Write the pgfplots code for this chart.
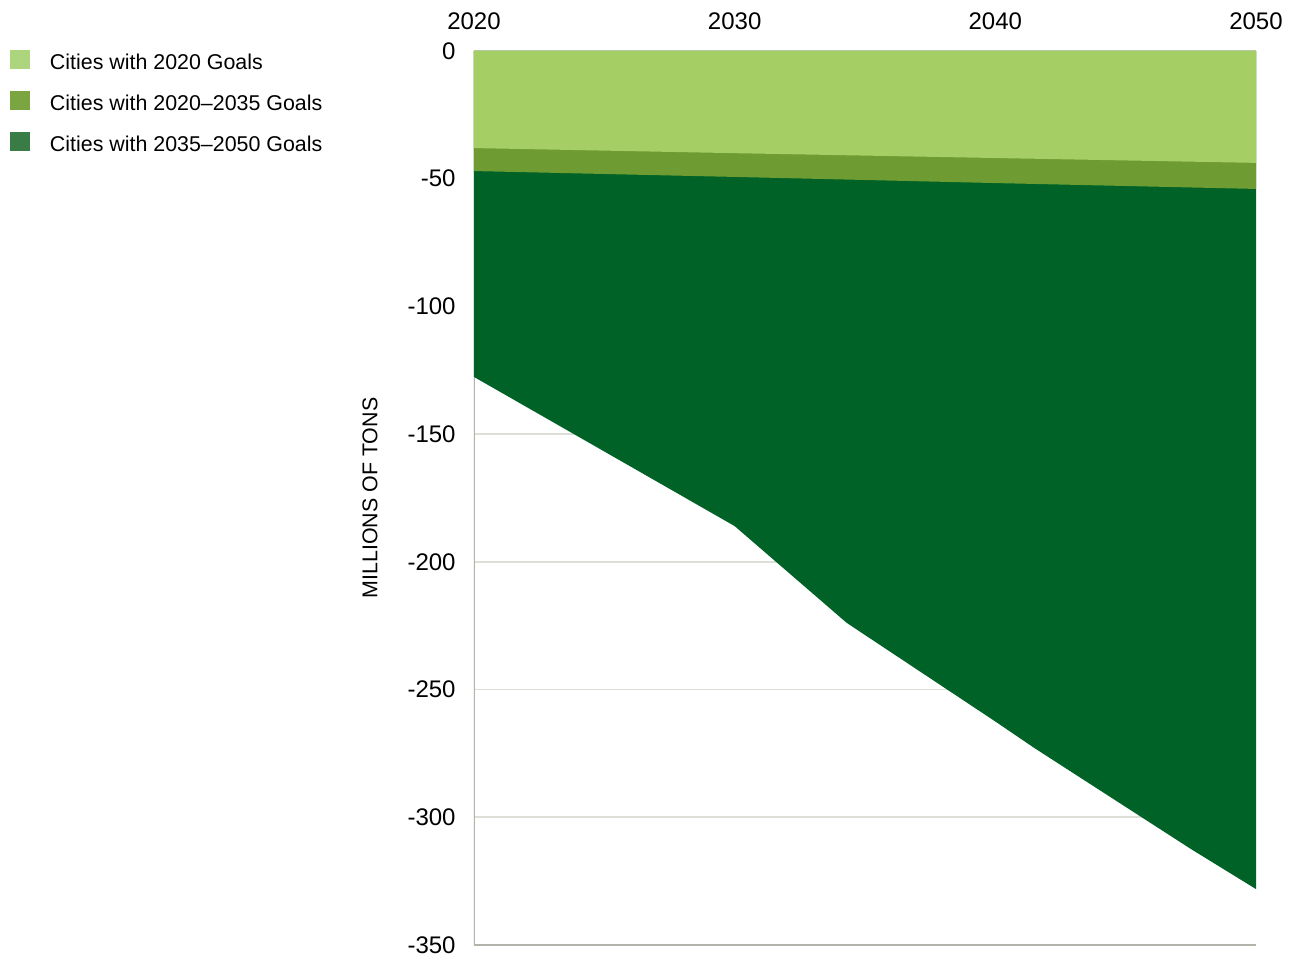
\documentclass[border=0pt]{standalone}
\usepackage{pgfplots}
\pgfplotsset{compat=1.18}
\usepackage{fontspec}
\setmainfont{Liberation Sans}
\definecolor{areaA}{HTML}{A5CE64}
\definecolor{areaB}{HTML}{6E9C32}
\definecolor{areaC}{HTML}{006227}
\definecolor{legA}{HTML}{ADD57D}
\definecolor{legB}{HTML}{7BA540}
\definecolor{legC}{HTML}{3A7C45}
\definecolor{axisgray}{HTML}{B3B3AB}
\definecolor{gridgray}{HTML}{DEDED8}
\begin{document}
\begin{tikzpicture}
\useasboundingbox (-237pt,-7pt) rectangle (411pt,472.5pt);
\begin{axis}[
  at={(0,0)}, anchor=south west,
  scale only axis, width=391pt, height=447pt,
  xmin=2020, xmax=2050, ymin=-350, ymax=0,
  axis line style={draw=none},
  major tick length=0pt,
  xtick={2020,2030,2040,2050}, xticklabels={2020,2030,2040,2050},
  xticklabel pos=upper,
  xticklabel style={font=\fontsize{12}{12}\selectfont, anchor=base, inner sep=0pt, yshift=10.75pt},
  ytick={0,-50,-100,-150,-200,-250,-300,-350},
  yticklabels={0,-50,-100,-150,-200,-250,-300,-350},
  yticklabel style={font=\fontsize{12}{12}\selectfont, anchor=east, inner sep=0pt, xshift=-9pt},
  ymajorgrids, grid style={color=gridgray, line width=0.9pt},
  ylabel={MILLIONS OF TONS},
  every axis y label/.style={at={(axis description cs:0,0.5)}, xshift=-52pt, rotate=90, anchor=center, font=\fontsize{10.7}{10.7}\selectfont},
  legend style={at={(axis description cs:-0.5934,1.0011)}, anchor=north west, draw=none, fill=none, inner sep=0pt, outer sep=0pt, font=\fontsize{10.7}{10.7}\selectfont, row sep=9pt, nodes={inner sep=0pt, text height=9pt, text depth=2pt}, /tikz/every odd column/.append style={column sep=10pt}},
  legend cell align=left,
  legend image code/.code={\fill (0pt,-3.5pt) rectangle (10pt,6pt);},
]
\draw[axisgray, line width=1.4pt] (rel axis cs:0,1) -- (rel axis cs:0,0) -- (rel axis cs:1,0);
\addplot[fill=areaC, draw=none, forget plot] coordinates {
(2020,-127.6) (2030,-186.0) (2034.3,-223.9) (2036.5,-238.8) (2040,-262.5) (2041.5,-272.9) (2047.5,-312.4) (2050,-328.1)
} \closedcycle;
\addplot[fill=areaB, draw=none, forget plot] coordinates {
(2020,-47.0) (2030,-49.3) (2040,-51.7) (2050,-54.0)
} \closedcycle;
\addplot[fill=areaA, draw=none, forget plot] coordinates {
(2020,-38.0) (2030,-40.0) (2040,-41.9) (2050,-43.8)
} \closedcycle;
\addlegendimage{fill=legA, draw=none}
\addlegendentry{Cities with 2020 Goals}
\addlegendimage{fill=legB, draw=none}
\addlegendentry{Cities with 2020–2035 Goals}
\addlegendimage{fill=legC, draw=none}
\addlegendentry{Cities with 2035–2050 Goals}
\end{axis}
\end{tikzpicture}
\end{document}
